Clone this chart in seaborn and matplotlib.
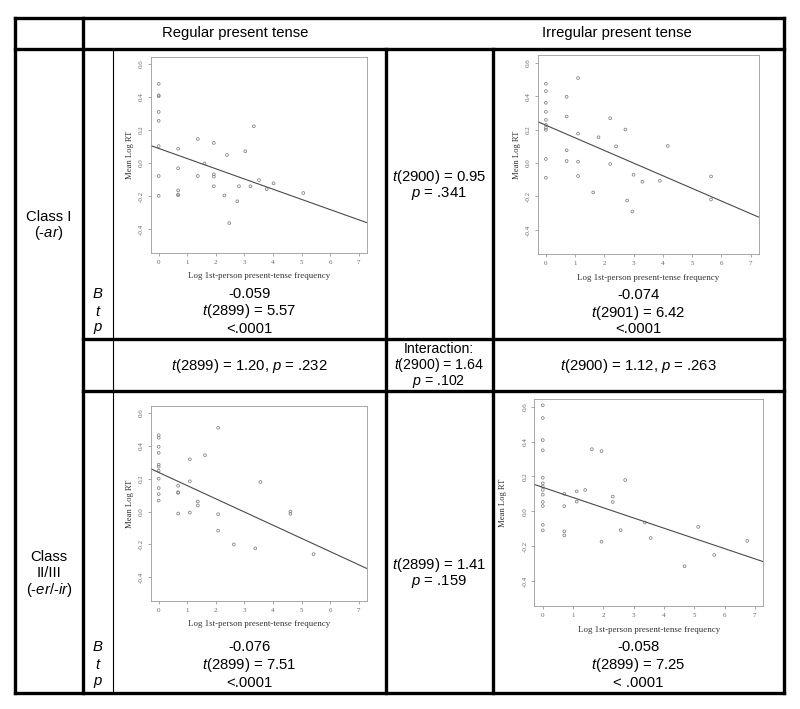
import numpy as np
import pandas as pd
import matplotlib
matplotlib.use("Agg")
import matplotlib.pyplot as plt
import seaborn as sns

W, H = 800, 709

# --- scatter data: log 1st-person frequency vs mean log RT ---
reg1_freq = [0, 0, 0, 0, 0, 0, 0, 0, 0.68, 0.68, 0.68, 0.68, 0.68, 1.37, 1.37, 1.6,
             1.93, 1.93, 1.93, 1.93, 2.3, 2.39, 2.47, 2.75, 2.81, 3.03, 3.21, 3.33,
             3.51, 3.78, 4.02, 5.06]
reg1_rt = [0.48, 0.41, 0.405, 0.31, 0.256, 0.103, -0.078, -0.198, 0.087, -0.031, -0.165,
           -0.19, -0.195, 0.146, -0.078, -0.002, 0.122, -0.068, -0.082, -0.14, -0.196,
           0.049, -0.363, -0.231, -0.14, 0.072, -0.14, 0.223, -0.103, -0.157, -0.122,
           -0.181]

irr1_freq = [0, 0, 0, 0, 0, 0, 0, 0, 0, 0, 0.71, 0.71, 0.71, 0.71, 1.10, 1.10, 1.10, 1.10,
             1.62, 1.80, 2.20, 2.20, 2.40, 2.72, 2.78, 2.96, 3.0, 3.30, 3.90, 4.17, 5.65, 5.65]
irr1_rt = [0.474, 0.43, 0.36, 0.306, 0.258, 0.228, 0.21, 0.198, 0.024, -0.088, 0.396,
           0.278, 0.076, 0.012, 0.508, 0.176, 0.008, -0.078, -0.176, 0.154, 0.268, -0.006,
           0.1, 0.2, -0.224, -0.29, -0.07, -0.112, -0.106, 0.102, -0.08, -0.218]

reg2_freq = [0, 0, 0, 0, 0, 0, 0, 0, 0, 0, 0, 0.68, 0.68, 0.68, 0.68, 1.09, 1.09, 1.09,
             1.37, 1.37, 1.62, 2.08, 2.08, 2.08, 2.63, 3.38, 3.56, 4.61, 4.61, 5.42]
reg2_rt = [0.465, 0.449, 0.394, 0.357, 0.286, 0.273, 0.249, 0.2, 0.143, 0.106, 0.067,
           0.157, 0.118, 0.114, -0.012, 0.318, 0.184, -0.006, 0.061, 0.037, 0.343, 0.51,
           -0.016, -0.116, -0.2, -0.224, 0.18, 0.0, -0.014, -0.259]

irr2_freq = [0, 0, 0, 0, 0, 0, 0, 0, 0, 0, 0, 0, 0, 0.71, 0.71, 0.71, 0.71, 1.12, 1.12,
             1.40, 1.62, 1.94, 1.94, 2.31, 2.31, 2.57, 2.72, 3.37, 3.56, 4.68, 5.13, 5.66,
             6.75]
irr2_rt = [0.608, 0.535, 0.408, 0.35, 0.192, 0.16, 0.143, 0.122, 0.095, 0.053, 0.03,
           -0.078, -0.11, 0.1, 0.029, -0.116, -0.139, 0.114, 0.055, 0.122, 0.356, 0.345,
           -0.175, 0.084, 0.053, -0.109, 0.179, -0.065, -0.154, -0.316, -0.09, -0.251,
           -0.17]

# fitted lines (intercept, slope) drawn across each panel
reg1_fit = (0.089, -0.0617)
irr1_fit = (0.226, -0.0755)
reg2_fit = (0.238, -0.0802)
irr2_fit = (0.137, -0.0586)

# --- table text ---
col_headers = ["Regular present tense", "Irregular present tense"]
class_labels = [["Class I", "(-$\\mathit{ar}$)"],
                ["Class", "II/III", "(-$\\mathit{er}$/-$\\mathit{ir}$)"]]
stat_names = ["$B$", "$t$", "$p$"]
reg1_stats = ["-0.059", "$t$(2899) = 5.57", "<.0001"]
irr1_stats = ["-0.074", "$t$(2901) = 6.42", "<.0001"]
reg2_stats = ["-0.076", "$t$(2899) = 7.51", "<.0001"]
irr2_stats = ["-0.058", "$t$(2899) = 7.25", "< .0001"]
class1_diff = ["$t$(2900) = 0.95", "$p$ = .341"]
class2_diff = ["$t$(2899) = 1.41", "$p$ = .159"]
reg_diff = "$t$(2899) = 1.20, $p$ = .232"
irr_diff = "$t$(2900) = 1.12, $p$ = .263"
interaction = ["Interaction:", "$t$(2900) = 1.64", "$p$ = .102"]

sns.set_theme(style="white")
plt.rcParams['font.family'] = ['Liberation Sans', 'DejaVu Sans']
plt.rcParams['mathtext.fontset'] = 'custom'
plt.rcParams['mathtext.rm'] = 'Liberation Sans'
plt.rcParams['mathtext.it'] = 'Liberation Sans:italic'

fig = plt.figure(figsize=(W / 100, H / 100), dpi=100)
fig.patch.set_facecolor('white')

# background axes in pixel coordinates for the table grid and text
bg = fig.add_axes([0, 0, 1, 1])
bg.set_xlim(0, W)
bg.set_ylim(H, 0)
bg.axis('off')

THICK = 2.4
THIN = 0.8
L, R, T, B = 15, 783.5, 17.5, 693
grid = [
    ((L, R), (T, T), THICK),
    ((L, R), (B, B), THICK),
    ((L, L), (T, B), THICK),
    ((R, R), (T, B), THICK),
    ((L, R), (49, 49), THICK),
    ((83, 83), (T, B), THICK),
    ((113, 113), (49, B), THIN),
    ((386, 386), (49, B), THICK),
    ((492.5, 492.5), (49, B), THICK),
    ((83, R), (339, 339), THICK),
    ((83, R), (391, 391), THICK),
]
for xs, ys, lw in grid:
    bg.plot(xs, ys, color='black', lw=lw, solid_capstyle='projecting')

FS = 10.7


def put(x, y, s, fs=FS):
    bg.text(x, y, s, ha='center', va='center', fontsize=fs, color='black')


put(235, 33, col_headers[0])
put(617, 33, col_headers[1])

for lines, ys in zip(class_labels, [[217, 233], [557, 573, 590]]):
    for s, y in zip(lines, ys):
        put(49, y, s)

for ys in ([294, 311.5, 329], [647, 665, 683]):
    for s, y in zip(stat_names, ys):
        put(98, y, s)

for stats, x, ys in [(reg1_stats, 249.5, [294, 311.5, 329]),
                     (irr1_stats, 638, [295, 312.5, 329]),
                     (reg2_stats, 249.5, [647, 665, 683]),
                     (irr2_stats, 638, [647, 665, 683])]:
    for s, y in zip(stats, ys):
        put(x, y, s)

for s, y in zip(class1_diff, [177, 193]):
    put(439, y, s)
for s, y in zip(class2_diff, [565, 581.5]):
    put(439, y, s)
# the interaction cell is tight, so its three lines sit a bit closer in a slightly smaller size
for s, y in zip(interaction, [349, 365.5, 382]):
    put(439, y, s, fs=10.2)
put(249.5, 366, reg_diff)
put(638, 366, irr_diff)


def draw_panel(box, freq, rt, fit, ylab_off, xlab_off):
    left, right, top, bottom = box
    ax = fig.add_axes([left / W, 1 - bottom / H, (right - left) / W, (bottom - top) / H])
    df = pd.DataFrame({'freq': freq, 'rt': rt})
    sns.scatterplot(data=df, x='freq', y='rt', ax=ax, marker='o', s=4,
                    facecolors='none', edgecolor='#808080', linewidth=0.55)
    ax.axline((0, fit[0]), slope=fit[1], color='#4a4a4a', lw=0.8)
    ax.set_xlim(-0.28, 7.28)
    ax.set_ylim(-0.544, 0.644)
    ax.set_xticks(range(8))
    ax.set_yticks([-0.4, -0.2, 0.0, 0.2, 0.4, 0.6])
    ax.set_yticklabels(['-0.4', '-0.2', '0.0', '0.2', '0.4', '0.6'],
                       rotation=90, va='center')
    ax.tick_params(bottom=True, left=True, direction='out', length=2, width=0.5,
                   color='#888888', labelsize=5, labelcolor='#666666', pad=3)
    for t in ax.get_xticklabels() + ax.get_yticklabels():
        t.set_family(['Liberation Serif'])
    for sp in ax.spines.values():
        sp.set_color('#9a9a9a')
        sp.set_linewidth(0.6)
    ax.set_facecolor('white')
    ax.set_xlabel('Log 1st-person present-tense frequency', fontsize=6.4,
                  family=['Liberation Serif'], color='#333333', va='center')
    ax.set_ylabel('Mean Log RT', fontsize=6.2, family=['Liberation Serif'],
                  color='#333333', va='center')
    ax.xaxis.set_label_coords(0.5, -xlab_off / (bottom - top))
    ax.yaxis.set_label_coords(-ylab_off / (right - left), 0.5)
    return ax


draw_panel((150.7, 366.7, 56.7, 253), reg1_freq, reg1_rt, reg1_fit, 20.7, 23)
draw_panel((537.7, 758.7, 55.3, 254), irr1_freq, irr1_rt, irr1_fit, 21, 23.7)
draw_panel((150.7, 366.7, 405.7, 601), reg2_freq, reg2_rt, reg2_fit, 20.7, 23)
draw_panel((534.3, 763.3, 399, 606), irr2_freq, irr2_rt, irr2_fit, 31, 24)

fig.savefig('out.png', dpi=100, facecolor='white')
